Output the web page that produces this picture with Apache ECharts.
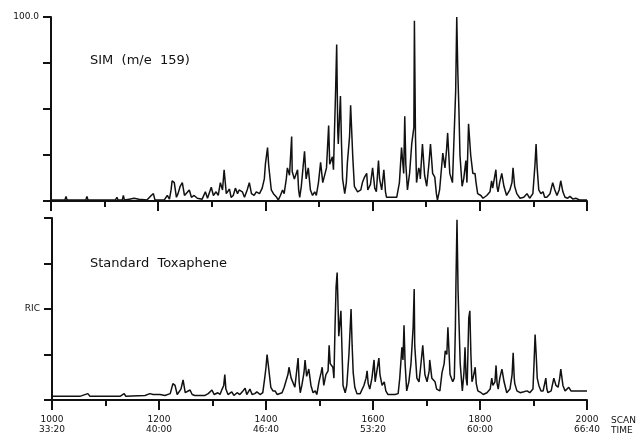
<!DOCTYPE html>
<html>
<head>
<meta charset="utf-8">
<script src="https://cdn.jsdelivr.net/npm/echarts@6/dist/echarts.min.js"></script>
<style>
  html, body { margin: 0; padding: 0; background: #fff; }
  #chart { width: 640px; height: 437px; }
</style>
</head>
<body>
<div id="chart"></div>
<script>
  // scan numbers on the x axis, time labels under them (2 s per scan)
  let scanTicks = [1000, 1200, 1400, 1600, 1800, 2000];
  let timeLabels = ['33:20', '40:00', '46:40', '53:20', '60:00', '66:40'];

  // SIM (m/e 159) trace, [scan, relative intensity %]
  let simTrace = [
    [1000,0.5],[1026,0.5],[1028,2.5],[1030,0.5],[1065,0.5],[1067,2.5],[1069,0.5],
    [1120,0.5],[1123,2],[1125,0.5],[1133,0.5],[1135,3],[1137,0.5],[1146,1],[1155,1.5],
    [1164,1],[1179,0.5],[1187,3],[1191,4],[1194,0.5],[1211,0.5],[1217,3],[1221,1],
    [1224,6],[1226,11],[1230,10],[1234,2],[1237,4],[1241,8],[1245,10],[1249,3],[1252,2],
    [1258,6],[1262,2],[1267,3],[1273,1.5],[1282,1],[1288,5],[1292,1.5],[1299,7.5],
    [1303,3],[1308,5],[1312,3],[1316,10],[1320,6],[1323,17],[1327,4],[1333,6.5],
    [1336,2],[1340,3],[1344,7],[1348,4],[1351,6],[1357,5],[1361,2],[1366,6],[1370,10],
    [1374,4],[1379,3],[1383,5],[1389,4],[1394,7],[1398,12],[1400,20],[1404,29],
    [1406,20],[1407,17],[1411,6],[1415,4],[1421,2],[1424,0.5],[1428,3],[1432,6],
    [1435,4],[1439,12],[1441,18],[1445,14],[1449,35],[1450,16],[1454,12],[1460,17],
    [1462,6],[1464,2],[1467,8],[1473,27],[1476,12],[1480,18],[1484,6],[1488,3],
    [1492,5],[1495,3],[1499,10],[1503,21],[1507,10],[1510,11],[1514,18],[1518,41],
    [1520,20],[1525,24],[1527,17],[1529,39],[1531,60],[1533,85],[1535,38],[1536,31],
    [1540,57],[1542,31],[1544,12],[1548,4],[1551,10],[1553,21],[1557,35],[1559,52],
    [1563,24],[1566,8],[1572,5],[1578,6],[1581,10],[1585,13],[1589,15],[1591,6],
    [1594,5],[1596,9],[1600,18],[1604,7],[1607,5],[1611,22],[1613,12],[1617,6],
    [1621,17],[1624,5],[1626,2],[1635,2],[1645,2],[1647,3],[1650,10],[1654,29],
    [1658,15],[1660,46],[1662,20],[1665,6],[1669,15],[1673,31],[1677,40],[1678,98],
    [1680,35],[1682,10],[1686,18],[1688,16],[1689,12],[1693,31],[1697,14],[1701,8],
    [1705,20],[1708,31],[1712,15],[1716,13],[1719,4],[1721,0.5],[1725,6],[1731,26],
    [1735,18],[1738,28],[1740,37],[1744,15],[1749,10],[1752,9],[1755,60],[1757,100],
    [1759,70],[1761,50],[1763,25],[1767,8],[1770,12],[1774,22],[1776,10],[1779,42],
    [1781,43],[1783,25],[1787,15],[1791,15],[1793,10],[1796,4],[1802,3],[1806,1.5],
    [1813,3],[1819,5],[1822,11],[1824,7],[1830,17],[1832,8],[1834,5],[1837,10],
    [1841,15],[1845,8],[1850,3],[1856,6],[1860,10],[1862,18],[1865,8],[1869,4],
    [1875,1.5],[1882,2],[1888,4],[1893,1.5],[1899,4],[1903,20],[1905,31],[1907,18],
    [1910,6],[1914,4],[1918,5],[1921,2],[1925,2],[1931,4],[1936,10],[1940,6],[1944,3],
    [1948,6],[1951,11],[1955,5],[1959,2],[1964,1.5],[1968,2.5],[1974,1],[1979,1.5],
    [1987,0.5],[2000,0.5]
  ];

  // reconstructed ion current, standard toxaphene
  let ricTrace = [
    [1000,2],[1052,2],[1067,3.5],[1071,2],[1127,2],[1135,3.5],[1138,2],[1174,2.5],
    [1183,3.5],[1189,3],[1202,3],[1211,2.5],[1221,3.5],[1226,9],[1230,8],[1234,3],
    [1237,3],[1241,6],[1245,11],[1249,4],[1252,3],[1258,5.5],[1262,3],[1267,2.5],
    [1286,2.5],[1292,3.5],[1295,2.5],[1299,5.5],[1303,3],[1310,4],[1314,3],[1318,6],
    [1321,8],[1323,14],[1325,6],[1329,3],[1336,4.5],[1340,2.5],[1346,4],[1351,3],
    [1357,5],[1361,6.5],[1364,3],[1370,6],[1374,3],[1379,3.5],[1383,4.5],[1389,3],
    [1394,4],[1398,13],[1400,18],[1402,25],[1404,20],[1406,19],[1409,7],[1413,5],
    [1417,5],[1421,3],[1424,4],[1430,4],[1434,7],[1437,10],[1441,14],[1443,18],
    [1447,12],[1450,11],[1454,7],[1460,23],[1462,10],[1464,4],[1467,8],[1471,15],
    [1473,22],[1476,13],[1480,17],[1484,8],[1488,4],[1492,5],[1495,3],[1499,10],
    [1503,15],[1505,18],[1508,8],[1512,14],[1516,16],[1518,30],[1520,20],[1525,18],
    [1527,12],[1529,40],[1531,62],[1533,70],[1535,48],[1536,35],[1540,49],[1542,28],
    [1544,8],[1548,4],[1551,8],[1555,25],[1559,50],[1561,30],[1563,15],[1566,7],
    [1570,3.5],[1576,3.5],[1579,4],[1583,8],[1587,12],[1589,16],[1591,9],[1594,6],
    [1598,12],[1602,22],[1604,10],[1607,9],[1611,23],[1613,14],[1617,8],[1621,10],
    [1624,5],[1628,3],[1641,3],[1647,3.5],[1650,12],[1654,29],[1656,22],[1658,41],
    [1660,20],[1663,5],[1667,10],[1671,20],[1673,30],[1675,40],[1677,61],[1678,30],
    [1682,12],[1686,10],[1689,18],[1693,30],[1697,14],[1701,10],[1705,16],[1706,22],
    [1710,12],[1716,10],[1719,6],[1725,5],[1729,15],[1733,20],[1735,27],[1738,25],
    [1740,40],[1744,14],[1749,10],[1752,12],[1754,40],[1755,63],[1757,99],[1759,60],
    [1761,40],[1763,20],[1767,5],[1770,15],[1772,29],[1774,12],[1776,8],[1779,45],
    [1781,49],[1783,25],[1785,10],[1787,12],[1791,18],[1793,9],[1796,5],[1802,4],
    [1806,3],[1813,4],[1819,6],[1822,12],[1824,8],[1828,10],[1830,19],[1832,9],
    [1834,6],[1837,12],[1841,17],[1845,10],[1850,4],[1856,6],[1860,14],[1862,26],
    [1864,12],[1865,9],[1869,5],[1875,4],[1882,4.5],[1888,5],[1893,4],[1899,6],
    [1901,20],[1903,36],[1905,25],[1907,12],[1910,8],[1914,5],[1918,5],[1923,12],
    [1925,6],[1927,4],[1933,5],[1938,12],[1942,8],[1946,7],[1949,12],[1951,17],
    [1955,8],[1959,5],[1962,5],[1966,7],[1970,5],[1977,5],[1987,5],[2000,5]
  ];

  let chart = echarts.init(document.getElementById('chart'));

  let font = 'DejaVu Sans';
  let ink = '#111';

  // x axis shared look, ticks every 100 scans, longer ones at labelled scans
  function xAxisFor(gridIndex, withLabels) {
    return {
      type: 'value',
      gridIndex: gridIndex,
      min: 1000,
      max: 2000,
      interval: 200,
      axisLine: { lineStyle: { color: ink, width: 2 } },
      axisTick: { show: true, length: 10, lineStyle: { color: ink, width: 2 } },
      minorTick: { show: true, splitNumber: 2, length: 6, lineStyle: { color: ink, width: 2 } },
      splitLine: { show: false },
      axisLabel: {
        show: withLabels,
        margin: 15,
        color: ink,
        fontFamily: font,
        fontSize: 9,
        lineHeight: 10,
        formatter: function (v) {
          let i = scanTicks.indexOf(v);
          return i < 0 ? '' : v + '\n' + timeLabels[i];
        }
      }
    };
  }

  function yAxisFor(gridIndex, label, labelAt) {
    return {
      type: 'value',
      gridIndex: gridIndex,
      min: 0,
      max: 100,
      interval: 25,
      axisLine: { show: true, lineStyle: { color: ink, width: 2 } },
      axisTick: { show: true, length: 8, lineStyle: { color: ink, width: 2 } },
      splitLine: { show: false },
      axisLabel: {
        margin: 12,
        color: ink,
        fontFamily: font,
        fontSize: 9,
        formatter: function (v) { return v === labelAt ? label : ''; }
      }
    };
  }

  let option = {
    animation: false,
    backgroundColor: '#fff',
    grid: [
      { left: 51, top: 17, width: 536, height: 184 },
      { left: 52, top: 218, width: 535, height: 182 }
    ],
    xAxis: [xAxisFor(0, false), xAxisFor(1, true)],
    yAxis: [yAxisFor(0, '100.0', 100), yAxisFor(1, 'RIC', 50)],
    series: [
      {
        name: 'SIM (m/e 159)',
        type: 'line',
        xAxisIndex: 0,
        yAxisIndex: 0,
        data: simTrace,
        showSymbol: false,
        lineStyle: { color: ink, width: 1.5 }
      },
      {
        name: 'Standard Toxaphene',
        type: 'line',
        xAxisIndex: 1,
        yAxisIndex: 1,
        data: ricTrace,
        showSymbol: false,
        lineStyle: { color: ink, width: 1.5 }
      }
    ],
    graphic: [
      { type: 'text', left: 90, top: 54,
        style: { text: 'SIM  (m/e  159)', font: '13px "DejaVu Sans"', fill: ink } },
      { type: 'text', left: 90, top: 257,
        style: { text: 'Standard  Toxaphene', font: '13px "DejaVu Sans"', fill: ink } },
      { type: 'text', left: 611, top: 416,
        style: { text: 'SCAN\nTIME', font: '9px "DejaVu Sans"', lineHeight: 10, fill: ink } }
    ]
  };

  chart.setOption(option);
</script>
</body>
</html>
